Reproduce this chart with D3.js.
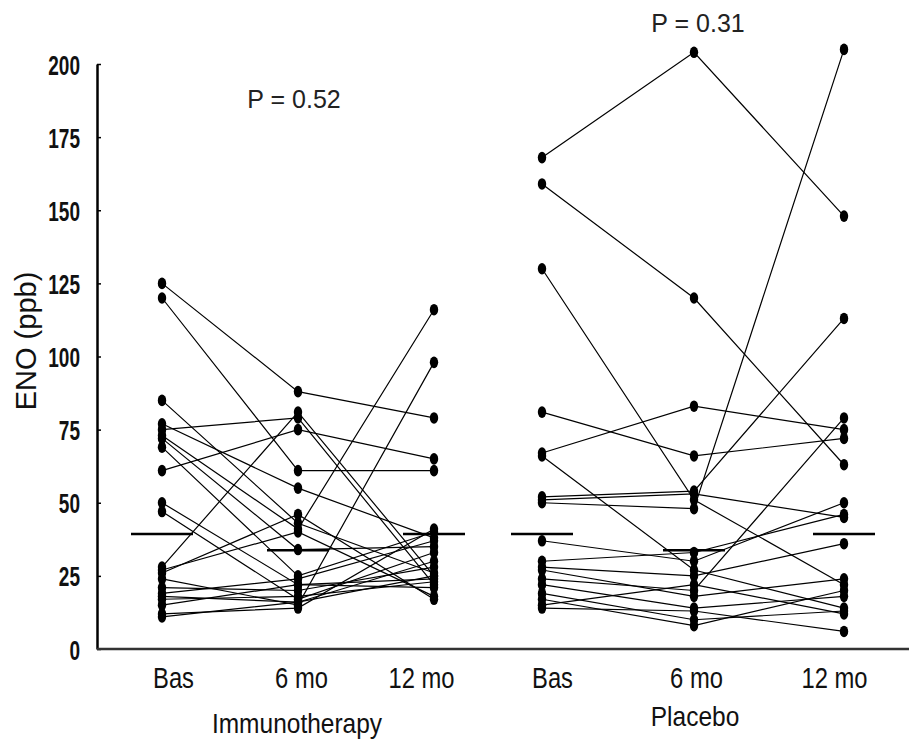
<!DOCTYPE html>
<html>
<head>
<meta charset="utf-8">
<script src="https://cdn.jsdelivr.net/npm/d3@7"></script>
<style>
  body { margin: 0; background: #fff; }
  text { fill: #111; }
</style>
</head>
<body>
<div id="chart"></div>
<script>
// time points, in drawing order (two groups of three)
var timeLabels = ["Bas", "6 mo", "12 mo", "Bas", "6 mo", "12 mo"];
var groupNames = ["Immunotherapy", "Placebo"];
var pValues = ["P = 0.52", "P = 0.31"];
var yTicks = [0, 25, 50, 75, 100, 125, 150, 175, 200];

// ENO (ppb) per subject: [Bas, 6 mo, 12 mo]
var immunoSubjects = [
  [125, 88, 79], [120, 61, 61], [85, 43, 26], [77, 55, 38], [75, 79, 22],
  [73, 41, 116], [72, 34, 35], [69, 25, 40], [61, 75, 65], [50, 22, 24],
  [47, 17, 33], [28, 81, 25], [26, 46, 17], [24, 15, 98], [21, 20, 28],
  [19, 24, 37], [18, 16, 30], [17, 18, 23], [15, 22, 21], [12, 14, 41],
  [11, 16, 25], [27, 40, 18]
];
var placeboSubjects = [
  [168, 204, 148], [159, 120, 63], [130, 51, 22], [81, 66, 72], [67, 83, 75],
  [66, 27, 14], [52, 54, 113], [51, 53, 45], [50, 48, 205], [37, 30, 50],
  [30, 33, 46], [28, 25, 36], [24, 20, 79], [22, 14, 18], [19, 10, 13],
  [17, 8, 20], [14, 13, 6], [15, 22, 12], [27, 18, 24]
];
// median bars [Bas, 6 mo, 12 mo]
var immunoMedians = [39.3, 33.8, 39.3];
var placeboMedians = [39.3, 33.8, 39.3];

var width = 909, height = 742;
var font = "'Liberation Sans', Arial, sans-serif";

var svg = d3.select("#chart")
    .append("svg")
    .attr("width", width)
    .attr("height", height);

// scales
var y = d3.scaleLinear().domain([0, 200]).range([649, 64]);
var x = d3.scaleLinear()
    .domain([0, 1, 2, 3, 4, 5])
    .range([162, 298, 434, 542, 694, 844]);
var xLabel = d3.scaleLinear()
    .domain([0, 1, 2, 3, 4, 5])
    .range([173, 301, 421, 552, 696, 834]);

// y axis
var yAxis = d3.axisLeft(y)
    .tickValues(yTicks)
    .tickSizeInner(-4)
    .tickSizeOuter(0)
    .tickPadding(17);

var yG = svg.append("g")
    .attr("transform", "translate(97,0)")
    .call(yAxis);
yG.select(".domain").attr("stroke", "#000").attr("stroke-width", 2.5);
yG.selectAll(".tick line").attr("stroke", "#000").attr("stroke-width", 1.5);
// condensed look: squeeze the labels horizontally
yG.selectAll(".tick text")
    .attr("font-family", font)
    .attr("font-weight", "bold")
    .attr("font-size", 28)
    .attr("x", -17 / 0.68)
    .attr("dy", "0.36em")
    .attr("transform", "scale(0.68,1)")
    .style("fill", "#111");

// x axis line
svg.append("line")
    .attr("x1", 97).attr("x2", width)
    .attr("y1", y(0)).attr("y2", y(0))
    .attr("stroke", "#333")
    .attr("stroke-width", 2.5);

// x tick labels
var xAxis = d3.axisBottom(xLabel)
    .tickValues(d3.range(timeLabels.length))
    .tickFormat(i => timeLabels[i])
    .tickSize(0)
    .tickPadding(18);
var xG = svg.append("g")
    .attr("transform", `translate(0, ${y(0)})`)
    .call(xAxis);
xG.select(".domain").remove();
xG.selectAll(".tick text")
    .attr("font-family", font)
    .attr("font-size", 29)
    .attr("transform", "scale(0.82,1)")
    .style("fill", "#111");

// group labels
svg.selectAll(".group-label")
    .data(groupNames)
    .enter()
    .append("text")
    .attr("class", "group-label")
    .attr("transform", (d, i) => `translate(${i === 0 ? 297 : 695}, ${i === 0 ? 733 : 726}) scale(0.86,1)`)
    .attr("text-anchor", "middle")
    .attr("font-family", font)
    .attr("font-size", 28.5)
    .text(d => d);

// y axis title
svg.append("text")
    .attr("transform", "translate(36, 341) rotate(-90)")
    .attr("text-anchor", "middle")
    .attr("font-family", font)
    .attr("font-size", 29)
    .text("ENO (ppb)");

// P values
svg.selectAll(".pval")
    .data(pValues)
    .enter()
    .append("text")
    .attr("class", "pval")
    .attr("x", (d, i) => i === 0 ? 294 : 698)
    .attr("y", (d, i) => i === 0 ? 108 : 32)
    .attr("text-anchor", "middle")
    .attr("font-family", font)
    .attr("font-size", 25)
    .style("fill", "#222")
    .text(d => d);

// subject lines and points
var groups = [
  { subjects: immunoSubjects, medians: immunoMedians, offset: 0 },
  { subjects: placeboSubjects, medians: placeboMedians, offset: 3 }
];

var line = d3.line()
    .x(d => x(d.t))
    .y(d => y(d.v));

groups.forEach(function(g) {
    var series = g.subjects.map(s => s.map((v, j) => ({ t: g.offset + j, v: v })));

    svg.append("g")
        .selectAll("path")
        .data(series)
        .enter()
        .append("path")
        .attr("d", line)
        .attr("fill", "none")
        .attr("stroke", "#000")
        .attr("stroke-width", 1.2);

    svg.append("g")
        .selectAll("ellipse")
        .data(series.flat())
        .enter()
        .append("ellipse")
        .attr("cx", d => x(d.t))
        .attr("cy", d => y(d.v))
        .attr("rx", 4.2)
        .attr("ry", 5.8)
        .attr("fill", "#000");

    svg.append("g")
        .selectAll("line")
        .data(g.medians)
        .enter()
        .append("line")
        .attr("x1", (d, j) => x(g.offset + j) - 31)
        .attr("x2", (d, j) => x(g.offset + j) + 31)
        .attr("y1", d => y(d))
        .attr("y2", d => y(d))
        .attr("stroke", "#000")
        .attr("stroke-width", 2.5);
});
</script>
</body>
</html>
